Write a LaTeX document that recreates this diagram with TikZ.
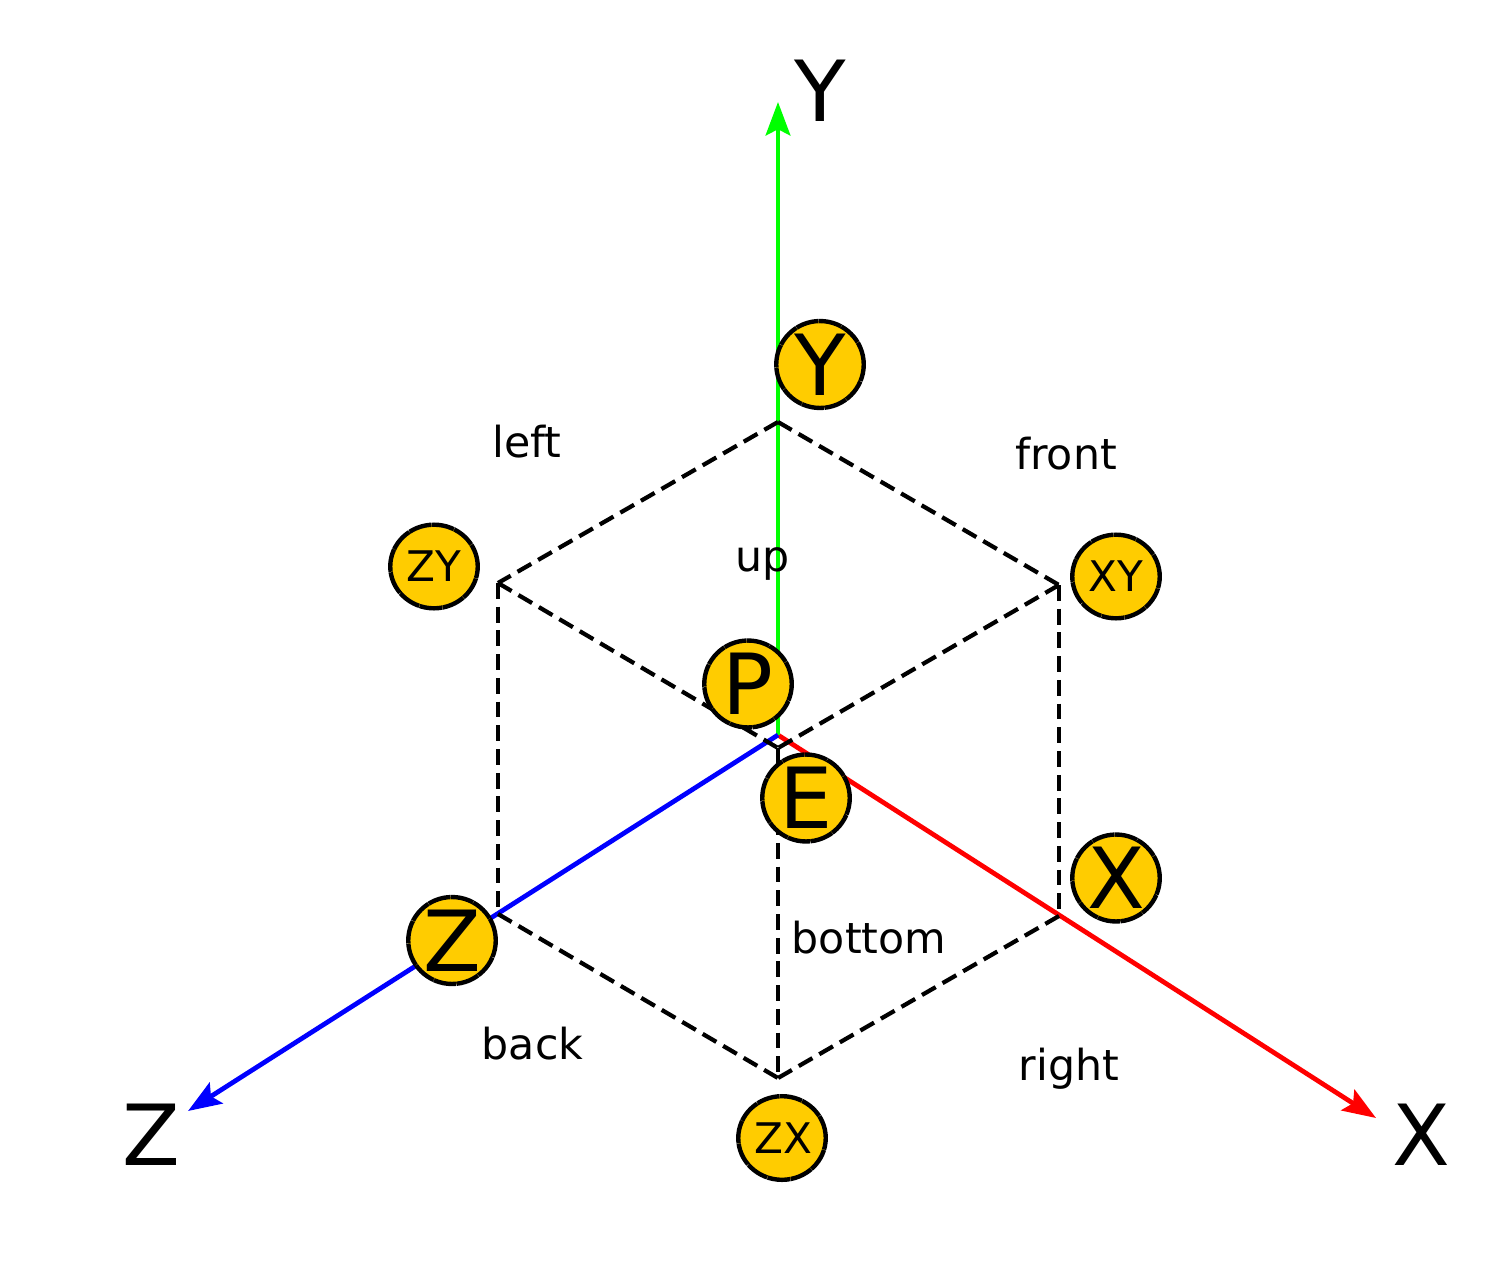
\documentclass[tikz,border=0pt]{standalone}
\usepackage{fontspec}
\setmainfont{DejaVu Sans}
\usetikzlibrary{arrows.meta, shapes.geometric}

\begin{document}
\begin{tikzpicture}[
      x=0.02cm, y=-0.02cm,
      axis/.style={line width=2.7pt, -{Stealth[length=19pt, width=14pt, inset=3.5pt]}},
      edge/.style={black, line width=2.4pt, dash pattern=on 9pt off 4.5pt},
      ball/.style={ellipse, draw, line width=2.5pt, dash pattern=on 13pt off 0.3pt, fill=ballcol, minimum width=49.8pt, minimum height=47.6pt, inner sep=0pt},
      bigball/.style={ball, font=\fontsize{48}{48}\selectfont},
      smallball/.style={ball, font=\fontsize{24}{24}\selectfont},
      axlabel/.style={font=\fontsize{48}{48}\selectfont},
      face/.style={font=\fontsize{24.3}{24.3}\selectfont}
    ]
    \definecolor{ballcol}{RGB}{255,204,0}
    \useasboundingbox (0,0) rectangle (1501,1264);

    % cube corners
    \coordinate (top) at (778,422);
    \coordinate (ltop) at (498,583);
    \coordinate (rtop) at (1059,585);
    \coordinate (mid) at (778,748);
    \coordinate (lbot) at (498,914);
    \coordinate (rbot) at (1059,916);
    \coordinate (bot) at (778,1078);

    % axes
    \coordinate (org) at (778,735);
    \coordinate (xtip) at (1376,1118);
    \coordinate (ytip) at (778,102);
    \coordinate (ztip) at (188,1111);
    \draw[axis, red] (org) -- (xtip);
    \draw[axis, green] (org) -- (ytip);
    \draw[axis, blue] (org) -- (ztip);

    \draw[edge] (top) -- (ltop);
    \draw[edge] (top) -- (rtop);
    \draw[edge] (ltop) -- (mid);
    \draw[edge] (rtop) -- (mid);
    \draw[edge] (ltop) -- (lbot);
    \draw[edge] (rtop) -- (rbot);
    \draw[edge] (mid) -- (bot);
    \draw[edge] (lbot) -- (bot);
    \draw[edge] (rbot) -- (bot);

    \node[axlabel] (xlab) at (1421,1135) {X};
    \node[axlabel] (ylab) at (820,91) {Y};
    \node[axlabel] (zlab) at (151,1135) {Z};

    \node[bigball] (p) at (748,684) {P};
    \node[bigball] (e) at (806,798) {E};
    \node[bigball] (y) at (820,364.5) {Y};
    \node[bigball] (x) at (1116,878) {X};
    \node[bigball] (z) at (452,940.5) {Z};
    \node[smallball] (zy) at (434,566.5) {ZY};
    \node[smallball] (xy) at (1116,576.5) {XY};
    \node[smallball] (zx) at (782,1138) {\hspace{2pt}ZX};

    \node[face] (left) at (527,442) {left};
    \node[face] (front) at (1066,454) {front};
    \node[face] (up) at (763,564) {up};
    \node[face] (bottom) at (869,938) {bottom};
    \node[face] (back) at (532.5,1044) {back};
    \node[face] (right) at (1069,1069) {right};
  \end{tikzpicture}
\end{document}
